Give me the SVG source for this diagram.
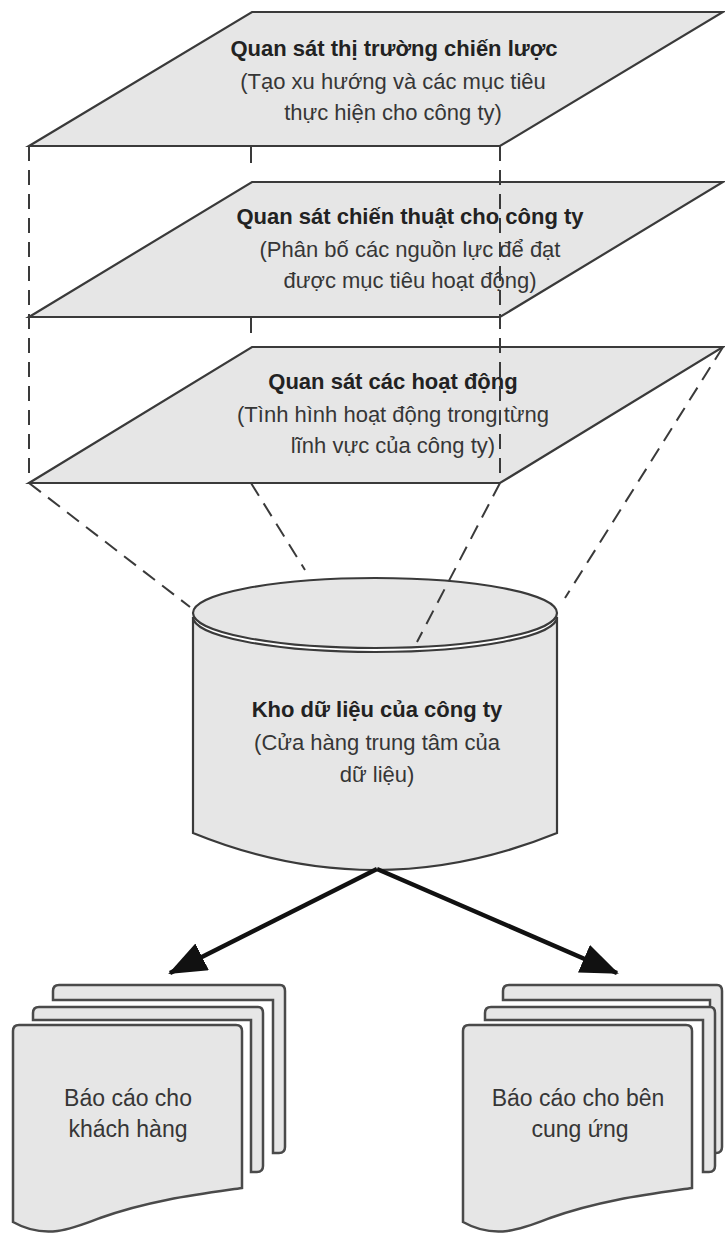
<svg xmlns="http://www.w3.org/2000/svg" width="725" height="1234" viewBox="0 0 725 1234">
<defs>
<style>
.plane{fill:#e6e6e6;stroke:#3a3a3a;stroke-width:2.2;stroke-linejoin:miter}
.shape{fill:#e6e6e6;stroke:#3a3a3a;stroke-width:2.2}
.page{fill:#e6e6e6;stroke:#4a4a4a;stroke-width:2.5}
.dash{fill:none;stroke:#3a3a3a;stroke-width:2;stroke-dasharray:15 9}
.solidg{fill:none;stroke:#3a3a3a;stroke-width:2}
.arrow{fill:none;stroke:#111;stroke-width:4.5}
.t{font-family:"Liberation Sans",Arial,sans-serif;font-size:22px;fill:#363636;text-anchor:middle}
.b{font-weight:bold;fill:#222222}
.d{font-family:"Liberation Sans",Arial,sans-serif;font-size:23px;fill:#363636;text-anchor:middle}
</style>
<marker id="ah" viewBox="0 0 38 30" refX="36" refY="15" markerWidth="38" markerHeight="30" markerUnits="userSpaceOnUse" orient="auto">
<path d="M0,0 L38,15 L0,30 Z" fill="#111"/>
</marker>
</defs>
<rect width="725" height="1234" fill="#ffffff"/>

<g id="guides-back">
<line class="dash" x1="29" y1="146" x2="29" y2="483"/>
<line class="solidg" x1="251" y1="146" x2="251" y2="163"/>
<line class="solidg" x1="251" y1="317" x2="251" y2="333"/>
</g>

<g id="plane-strategic">
<polygon class="plane" points="29,146 252,12 723,12 500,146"/>
<text class="t b" x="394" y="56">Quan sát thị trường chiến lược</text>
<text class="t" x="393" y="89">(Tạo xu hướng và các mục tiêu</text>
<text class="t" x="393" y="120">thực hiện cho công ty)</text>
</g>

<g id="plane-tactical">
<polygon class="plane" points="29,317 252,182 723,182 500,317"/>
<text class="t b" x="410" y="224">Quan sát chiến thuật cho công ty</text>
<text class="t" x="410" y="257">(Phân bố các nguồn lực để đạt</text>
<text class="t" x="410" y="288">được mục tiêu hoạt động)</text>
</g>

<g id="plane-operational">
<polygon class="plane" points="29,483 252,347 723,347 500,483"/>
<text class="t b" x="393" y="389">Quan sát các hoạt động</text>
<text class="t" x="393" y="422">(Tình hình hoạt động trong từng</text>
<text class="t" x="393" y="453">lĩnh vực của công ty)</text>
</g>

<g id="warehouse">
<path class="shape" d="M193,617 L193,833 Q375,907 557,833 L557,617 A182,35 0 0 1 193,617 Z"/>
<ellipse class="shape" cx="375" cy="613" rx="182" ry="35"/>
<text class="t b" x="377" y="717">Kho dữ liệu của công ty</text>
<text class="t" x="377" y="750">(Cửa hàng trung tâm của</text>
<text class="t" x="377" y="782">dữ liệu)</text>
</g>

<g id="report-customers">
<path class="page" d="M53,991 Q53,985 59,985 L280,985 Q285,985 285,991 L285,1147 Q285,1153 279,1153 L273,1153 L273,1000 L53,1000 Z"/>
<path class="page" d="M33,1013 Q33,1007 39,1007 L258,1007 Q263,1007 263,1013 L263,1166 Q263,1172 257,1172 L251,1172 L251,1020 L33,1020 Z"/>
<path class="page" d="M13,1031 Q13,1025 19,1025 L236,1025 Q242,1025 242,1031 L242,1188 C200,1194 150,1200 100,1218 C72,1229 45,1240 13,1222 Z"/>
<text class="d" x="128" y="1106">Báo cáo cho</text>
<text class="d" x="128" y="1137">khách hàng</text>
</g>

<g id="report-suppliers">
<path class="page" d="M503,991 Q503,985 509,985 L717,985 Q722,985 722,991 L722,1147 Q722,1153 716,1153 L710,1153 L710,1000 L503,1000 Z"/>
<path class="page" d="M485,1013 Q485,1007 491,1007 L710,1007 Q715,1007 715,1013 L715,1166 Q715,1172 709,1172 L703,1172 L703,1020 L485,1020 Z"/>
<path class="page" d="M463,1031 Q463,1025 469,1025 L686,1025 Q692,1025 692,1031 L692,1188 C650,1194 600,1200 550,1218 C522,1229 495,1240 463,1222 Z"/>
<text class="d" x="578" y="1106">Báo cáo cho bên</text>
<text class="d" x="580" y="1137">cung ứng</text>
</g>

<g id="connectors">
<line class="dash" x1="500" y1="146" x2="500" y2="483"/>
<line class="dash" x1="29" y1="483" x2="190" y2="607"/>
<line class="dash" x1="251" y1="483" x2="305" y2="570"/>
<line class="dash" x1="500" y1="483" x2="417" y2="642"/>
<line class="dash" x1="723" y1="347" x2="565" y2="598"/>
<line class="arrow" x1="377" y1="869" x2="170" y2="973" marker-end="url(#ah)"/>
<line class="arrow" x1="377" y1="869" x2="617" y2="973" marker-end="url(#ah)"/>
</g>
</svg>
